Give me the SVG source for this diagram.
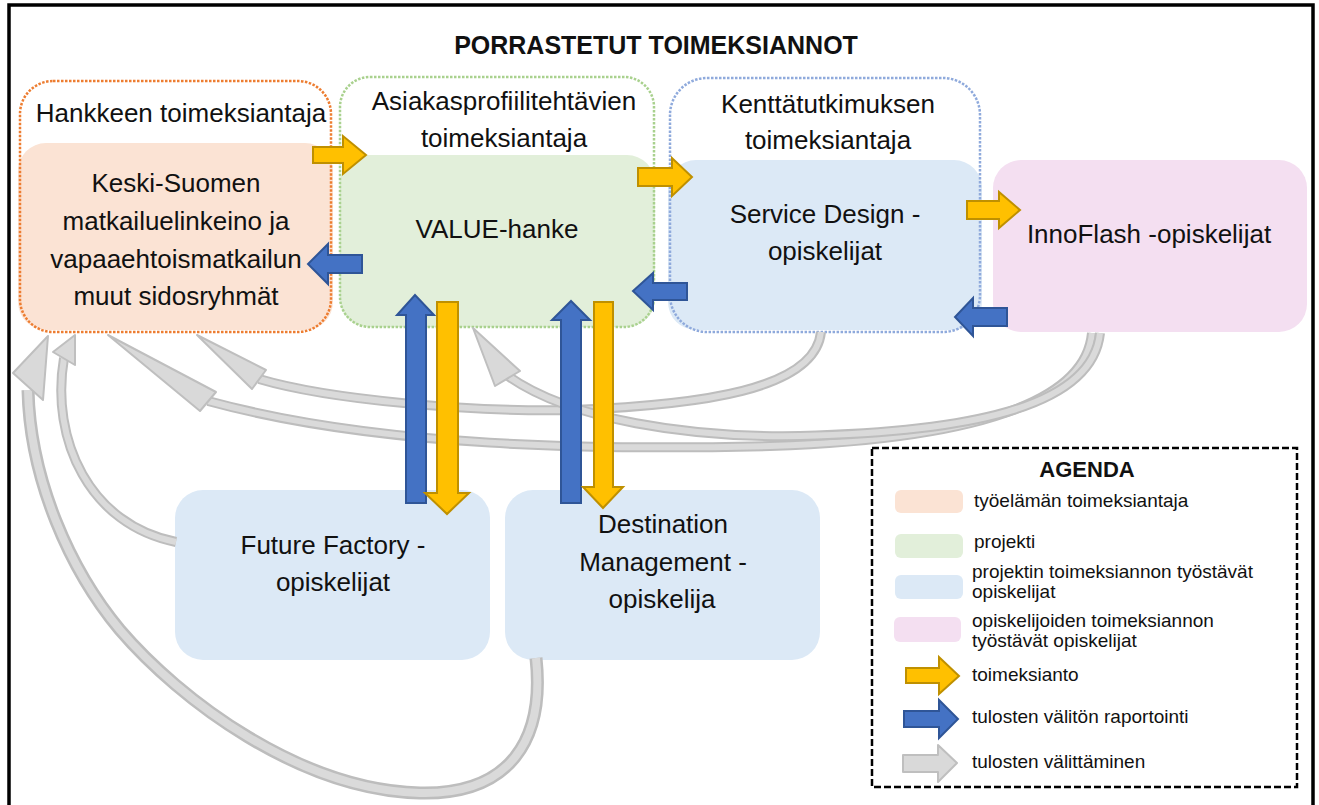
<svg xmlns="http://www.w3.org/2000/svg" width="1319" height="805" viewBox="0 0 1319 805">
<style>
text{font-family:"Liberation Sans",Arial,sans-serif;fill:#111;}
.t26{font-size:26px;text-anchor:middle;}
.lg{font-size:19px;}
.title{font-size:25px;font-weight:bold;text-anchor:middle;}
.peach{fill:#FBE3D4;}
.green{fill:#E2EFDA;}
.blue{fill:#DCE9F6;}
.pink{fill:#F4DFF1;}
.fo{fill:none;stroke:#ED7D31;stroke-width:2.5;stroke-dasharray:2.5 1.5;}
.fg{fill:none;stroke:#A9D18E;stroke-width:2.5;stroke-dasharray:2.5 1.5;}
.fb{fill:none;stroke:#8FAADC;stroke-width:2.5;stroke-dasharray:2.5 1.5;}
.ya{fill:#FFC000;stroke:#BF9000;stroke-width:2;stroke-linejoin:miter;}
.ba{fill:#4472C4;stroke:#2F5597;stroke-width:2;stroke-linejoin:miter;}
.ga{fill:#D9D9D9;stroke:#BFBFBF;stroke-width:2;stroke-linejoin:round;}
.go{fill:none;stroke:#BDBDBD;stroke-linecap:butt;}
.gi{fill:none;stroke:#DADADA;stroke-linecap:butt;}
</style>
<rect x="9" y="5" width="1304" height="803" fill="#fff" stroke="#000" stroke-width="3.5"/>
<text class="title" x="656" y="54">PORRASTETUT TOIMEKSIANNOT</text>

<g id="node-keski-suomi">
  <rect class="peach" x="18" y="143" width="315" height="187" rx="28"/>
  <rect class="fo" x="20" y="81" width="311" height="251" rx="33"/>
  <text class="t26" x="181" y="122">Hankkeen toimeksiantaja</text>
  <text class="t26" x="176" y="192">Keski-Suomen</text>
  <text class="t26" x="176" y="230">matkailuelinkeino ja</text>
  <text class="t26" x="176" y="268">vapaaehtoismatkailun</text>
  <text class="t26" x="176" y="305">muut sidosryhmät</text>
</g>

<g id="node-value">
  <rect class="green" x="340" y="155" width="315" height="172" rx="28"/>
  <rect class="fg" x="340" y="77" width="314" height="250" rx="30"/>
  <text class="t26" x="504" y="110">Asiakasprofiilitehtävien</text>
  <text class="t26" x="504" y="147">toimeksiantaja</text>
  <text class="t26" x="497" y="238">VALUE-hanke</text>
</g>

<g id="node-service-design">
  <rect class="blue" x="668" y="160" width="314" height="170" rx="28"/>
  <rect class="fb" x="670" y="78" width="310" height="254" rx="37"/>
  <text class="t26" x="828" y="113">Kenttätutkimuksen</text>
  <text class="t26" x="828" y="149">toimeksiantaja</text>
  <text class="t26" x="825" y="223">Service Design -</text>
  <text class="t26" x="825" y="260">opiskelijat</text>
</g>

<g id="node-innoflash">
  <rect class="pink" x="993" y="160" width="314" height="172" rx="28"/>
  <text class="t26" x="1149" y="243">InnoFlash -opiskelijat</text>
</g>

<g id="node-future-factory">
  <rect class="blue" x="175" y="490" width="315" height="170" rx="28"/>
  <text class="t26" x="333" y="554">Future Factory -</text>
  <text class="t26" x="333" y="591">opiskelijat</text>
</g>

<g id="node-destination">
  <rect class="blue" x="505" y="490" width="315" height="170" rx="28"/>
  <text class="t26" x="663" y="533">Destination</text>
  <text class="t26" x="663" y="571">Management -</text>
  <text class="t26" x="662" y="608">opiskelija</text>
</g>

<g id="connectors">
  <g id="g-dm-keski">
    <path class="go" stroke-width="13" d="M536,658 C545,740 510,795 420,793 C300,790 180,700 120,630 C70,570 30,480 28,390"/>
    <path class="gi" stroke-width="8" d="M536,658 C545,740 510,795 420,793 C300,790 180,700 120,630 C70,570 30,480 28,390"/>
    <polygon class="ga" points="48,336 13,373 43,400"/>
  </g>
  <g id="g-ff-keski">
    <path class="go" stroke-width="10" d="M176,542 C90,525 50,440 64,358"/>
    <path class="gi" stroke-width="6" d="M176,542 C90,525 50,440 64,358"/>
    <polygon class="ga" points="75,335 53,352 75,365"/>
  </g>
  <g id="g-sd-keski">
    <path class="go" stroke-width="10" d="M821,332 C815,390 700,405 573,410 C470,412 330,400 259,379"/>
    <path class="gi" stroke-width="6" d="M821,332 C815,390 700,405 573,410 C470,412 330,400 259,379"/>
    <polygon class="ga" points="197,335 252,389 266,370"/>
  </g>
  <g id="g-inno-keski">
    <path class="go" stroke-width="10" d="M1092,333 C1085,410 950,440 770,446 C600,450 380,448 208,401"/>
    <path class="gi" stroke-width="6" d="M1092,333 C1085,410 950,440 770,446 C600,450 380,448 208,401"/>
    <polygon class="ga" points="108,335 200,411 216,392"/>
  </g>
  <g id="g-inno-value">
    <path class="go" stroke-width="10" d="M1100,333 C1092,410 960,432 800,436 C690,438 570,420 508,376"/>
    <path class="gi" stroke-width="6" d="M1100,333 C1092,410 960,432 800,436 C690,438 570,420 508,376"/>
    <polygon class="ga" points="473,328 495,386 520,371"/>
  </g>
  <polygon class="ya" points="313,147 343,147 343,136 366,155 343,174 343,163 313,163"/>
  <polygon class="ya" points="638,168 672,168 672,158 692,177 672,196 672,186 638,186"/>
  <polygon class="ya" points="967,201 999,201 999,192 1020,210 999,228 999,219 967,219"/>
  <polygon class="ba" points="406,503 406,315 397,315 415,295 434,315 426,315 426,503"/>
  <polygon class="ya" points="437,302 458,302 458,493 469,493 447,514 425,493 437,493"/>
  <polygon class="ba" points="561,503 561,320 552,320 571,301 590,320 581,320 581,503"/>
  <polygon class="ya" points="594,302 613,302 613,487 623,487 603,508 583,487 594,487"/>
  <polygon class="ba" points="362,255 328,255 328,244 308,264 328,284 328,273 362,273"/>
  <polygon class="ba" points="687,283 653,283 653,273 633,291 653,310 653,300 687,300"/>
  <polygon class="ba" points="1007,308 973,308 973,298 955,317 973,336 973,326 1007,326"/>
</g>

<g id="legend">
  <rect x="872" y="448" width="425" height="339" fill="#fff" stroke="#000" stroke-width="2.5" stroke-dasharray="7 3"/>
  <text x="1087" y="477" style="font-size:22px;font-weight:bold;text-anchor:middle">AGENDA</text>
  <rect class="peach" x="895" y="490" width="68" height="23" rx="6"/>
  <text class="lg" x="974" y="507">työelämän toimeksiantaja</text>
  <rect class="green" x="895" y="534" width="68" height="24" rx="6"/>
  <text class="lg" x="974" y="548">projekti</text>
  <rect class="blue" x="895" y="575" width="68" height="24" rx="6"/>
  <text class="lg" x="972" y="578">projektin toimeksiannon työstävät</text>
  <text class="lg" x="972" y="598">opiskelijat</text>
  <rect class="pink" x="894" y="617" width="67" height="25" rx="6"/>
  <text class="lg" x="972" y="627">opiskelijoiden toimeksiannon</text>
  <text class="lg" x="972" y="647">työstävät opiskelijat</text>
  <polygon class="ya" points="906,668 939,668 939,657 959,676 939,694 939,683 906,683"/>
  <text class="lg" x="972" y="681">toimeksianto</text>
  <polygon class="ba" points="904,711 939,711 939,700 958,719 939,738 939,727 904,727"/>
  <text class="lg" x="972" y="723">tulosten välitön raportointi</text>
  <polygon class="ga" points="903,755 938,755 938,745 957,763 938,782 938,772 903,772"/>
  <text class="lg" x="972" y="768">tulosten välittäminen</text>
</g>
</svg>
